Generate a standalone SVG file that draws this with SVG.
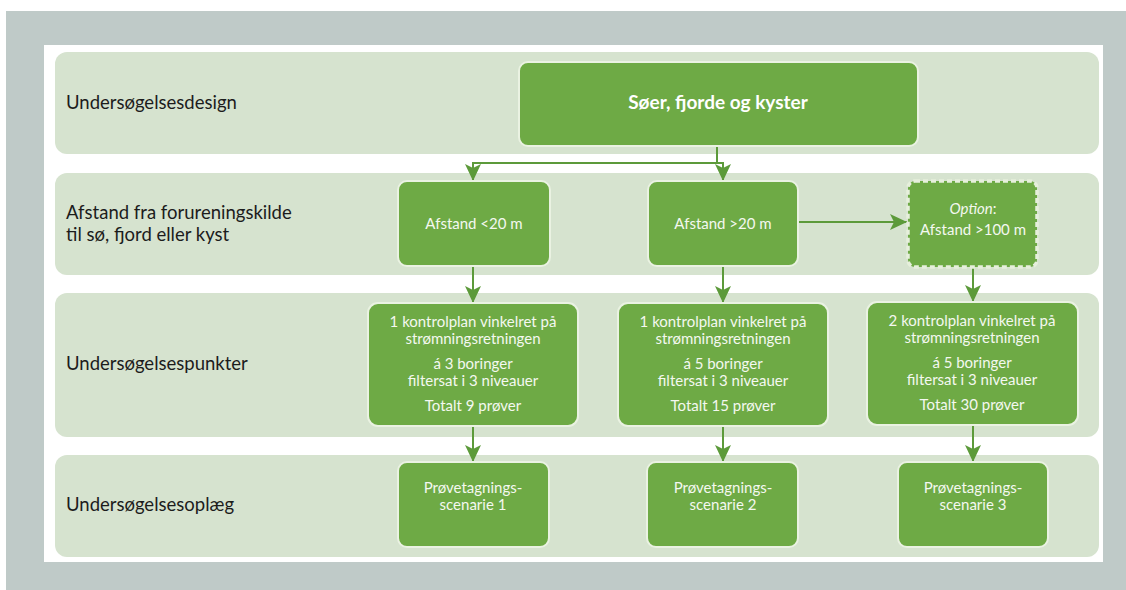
<svg xmlns="http://www.w3.org/2000/svg" width="1126" height="590" viewBox="0 0 1126 590">
  <defs>
    <style>
      .lane { fill: #d6e3cf; }
      .lane-label { font-family: Lato, "Liberation Sans", sans-serif; font-size: 18.5px; fill: #1c1c1c; }
      .box { fill: #6eaa45; stroke: #eaf2e2; stroke-width: 2; }
      .box-opt { fill: #6eaa45; stroke: #e6efdc; stroke-width: 3.5; stroke-dasharray: 5 3; }
      .box-text { font-family: Lato, "Liberation Sans", sans-serif; font-size: 15px; fill: #f4f8f0; text-anchor: middle; }
      .box-title { font-family: Lato, "Liberation Sans", sans-serif; font-size: 19px; font-weight: bold; fill: #ffffff; text-anchor: middle; }
      .conn { fill: none; stroke: #5c9a3a; stroke-width: 2; }
    </style>
    <marker id="arrow" markerUnits="userSpaceOnUse" markerWidth="20" markerHeight="16" viewBox="0 0 20 16" refX="17" refY="8" orient="auto">
      <path d="M0,0 L17,8 L0,16 L4,8 z" fill="#5c9a3a"/>
    </marker>
  </defs>

  <!-- frame -->
  <rect x="6" y="11" width="1120" height="579" fill="#bfcac8"/>
  <rect x="44" y="45" width="1059" height="517" fill="#ffffff"/>

  <!-- swim lanes -->
  <g id="lane-design">
    <rect class="lane" x="55" y="52" width="1044" height="102" rx="12"/>
    <text class="lane-label" x="66" y="109">Undersøgelsesdesign</text>
  </g>
  <g id="lane-distance">
    <rect class="lane" x="55" y="173" width="1044" height="102" rx="12"/>
    <text class="lane-label" x="66" y="219">Afstand fra forureningskilde</text>
    <text class="lane-label" x="66" y="241">til sø, fjord eller kyst</text>
  </g>
  <g id="lane-points">
    <rect class="lane" x="55" y="293" width="1044" height="144" rx="12"/>
    <text class="lane-label" x="66" y="370">Undersøgelsespunkter</text>
  </g>
  <g id="lane-plan">
    <rect class="lane" x="55" y="455" width="1044" height="102" rx="12"/>
    <text class="lane-label" x="66" y="511">Undersøgelsesoplæg</text>
  </g>

  <!-- connectors -->
  <g id="connectors">
    <path class="conn" d="M717,146 V163 H473 V181" marker-end="url(#arrow)"/>
    <path class="conn" d="M717,163 H723 V181" marker-end="url(#arrow)"/>
    <path class="conn" d="M798,222 H907" marker-end="url(#arrow)"/>
    <path class="conn" d="M473,266 V303" marker-end="url(#arrow)"/>
    <path class="conn" d="M723,266 V303" marker-end="url(#arrow)"/>
    <path class="conn" d="M973,268 V302" marker-end="url(#arrow)"/>
    <path class="conn" d="M473,426 V462" marker-end="url(#arrow)"/>
    <path class="conn" d="M723,426 V462" marker-end="url(#arrow)"/>
    <path class="conn" d="M973,425 V462" marker-end="url(#arrow)"/>
  </g>

  <!-- nodes -->
  <g id="node-soer">
    <rect class="box" x="519" y="62" width="399" height="84" rx="9"/>
    <text class="box-title" x="718" y="109">Søer, fjorde og kyster</text>
  </g>

  <g id="node-afstand-lt20">
    <rect class="box" x="398" y="181" width="152" height="85" rx="9"/>
    <text class="box-text" x="474" y="229">Afstand &lt;20 m</text>
  </g>
  <g id="node-afstand-gt20">
    <rect class="box" x="648" y="181" width="150" height="85" rx="9"/>
    <text class="box-text" x="723" y="229">Afstand &gt;20 m</text>
  </g>
  <g id="node-afstand-gt100">
    <rect class="box-opt" x="908" y="181" width="129" height="86" rx="7"/>
    <text class="box-text" x="973" y="214"><tspan font-style="italic">Option</tspan>:</text>
    <text class="box-text" x="973" y="235">Afstand &gt;100 m</text>
  </g>

  <g id="node-punkter-1">
    <rect class="box" x="368" y="303" width="210" height="123" rx="10"/>
    <text class="box-text" x="473" y="327">1 kontrolplan vinkelret på</text>
    <text class="box-text" x="473" y="344">strømningsretningen</text>
    <text class="box-text" x="473" y="369">á 3 boringer</text>
    <text class="box-text" x="473" y="386">filtersat i 3 niveauer</text>
    <text class="box-text" x="473" y="411">Totalt 9 prøver</text>
  </g>
  <g id="node-punkter-2">
    <rect class="box" x="618" y="303" width="210" height="123" rx="10"/>
    <text class="box-text" x="723" y="327">1 kontrolplan vinkelret på</text>
    <text class="box-text" x="723" y="344">strømningsretningen</text>
    <text class="box-text" x="723" y="369">á 5 boringer</text>
    <text class="box-text" x="723" y="386">filtersat i 3 niveauer</text>
    <text class="box-text" x="723" y="411">Totalt 15 prøver</text>
  </g>
  <g id="node-punkter-3">
    <rect class="box" x="867" y="302" width="211" height="123" rx="10"/>
    <text class="box-text" x="972" y="326">2 kontrolplan vinkelret på</text>
    <text class="box-text" x="972" y="343">strømningsretningen</text>
    <text class="box-text" x="972" y="368">á 5 boringer</text>
    <text class="box-text" x="972" y="385">filtersat i 3 niveauer</text>
    <text class="box-text" x="972" y="410">Totalt 30 prøver</text>
  </g>

  <g id="node-scenarie-1">
    <rect class="box" x="398" y="462" width="151" height="85" rx="9"/>
    <text class="box-text" x="473" y="493">Prøvetagnings-</text>
    <text class="box-text" x="473" y="510">scenarie 1</text>
  </g>
  <g id="node-scenarie-2">
    <rect class="box" x="647" y="462" width="151" height="85" rx="9"/>
    <text class="box-text" x="723" y="493">Prøvetagnings-</text>
    <text class="box-text" x="723" y="510">scenarie 2</text>
  </g>
  <g id="node-scenarie-3">
    <rect class="box" x="898" y="462" width="150" height="85" rx="9"/>
    <text class="box-text" x="973" y="493">Prøvetagnings-</text>
    <text class="box-text" x="973" y="510">scenarie 3</text>
  </g>
</svg>
